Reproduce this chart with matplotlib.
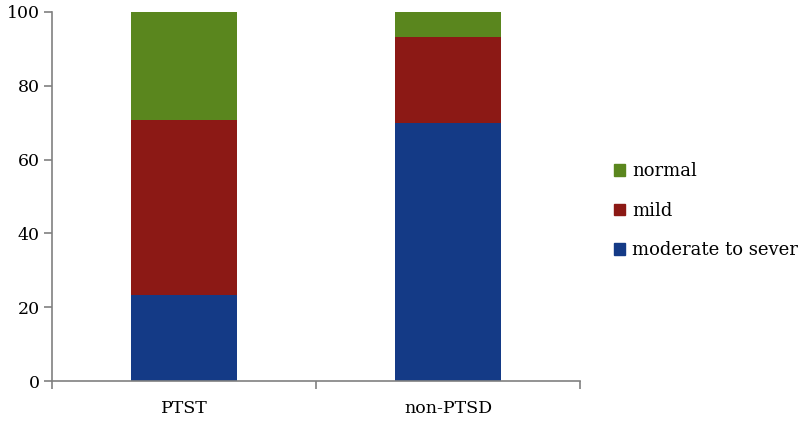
import matplotlib
matplotlib.use("Agg")
import matplotlib.pyplot as plt
from matplotlib.patches import Patch
import numpy as np

categories = ["PTST", "non-PTSD"]
moderate = [23.3, 69.9]
mild = [47.4, 23.3]
normal = [29.3, 6.8]
yticks = [0, 20, 40, 60, 80, 100]

colors = {"moderate to sever": "#143A86", "mild": "#8C1915", "normal": "#5A861E"}

plt.rcParams['font.family'] = ['DejaVu Serif']
fig = plt.figure(figsize=(8.01, 4.32), dpi=100)
ax = fig.add_axes([52/801, 51/432, 528/801, 369/432])

x = np.arange(len(categories))
w = 0.4
ax.bar(x, moderate, w, color=colors["moderate to sever"], label="moderate to sever")
ax.bar(x, mild, w, bottom=moderate, color=colors["mild"], label="mild")
ax.bar(x, normal, w, bottom=np.array(moderate) + np.array(mild), color=colors["normal"], label="normal")

ax.set_xlim(-0.5, 1.5)
ax.set_ylim(0, 100)
ax.set_yticks(yticks)
ax.set_yticklabels([str(v) for v in yticks], fontsize=12.5)
ax.set_xticks(x)
ax.set_xticklabels(categories, fontsize=12.5)
ax.tick_params(axis='x', length=0, pad=14)
ax.set_xticks([-0.5, 0.5, 1.5], minor=True)
ax.tick_params(axis='x', which='minor', length=6, width=1.2, color='#808080', direction='out')
ax.tick_params(axis='y', length=6, width=1.2, color='#808080', direction='out', pad=3)
for s in ['top', 'right']:
    ax.spines[s].set_visible(False)
for s in ['left', 'bottom']:
    ax.spines[s].set_color('#808080')
    ax.spines[s].set_linewidth(1.2)

handles = [Patch(color=colors[k]) for k in ["normal", "mild", "moderate to sever"]]
fig.legend(handles, ["normal", "mild", "moderate to sever"], loc='center left',
           bbox_to_anchor=(607/801, 0.512), frameon=False, fontsize=13,
           borderaxespad=0, handlelength=0.6, handleheight=0.6,
           handletextpad=0.4, labelspacing=1.2)

fig.savefig("out.png", dpi=100)
